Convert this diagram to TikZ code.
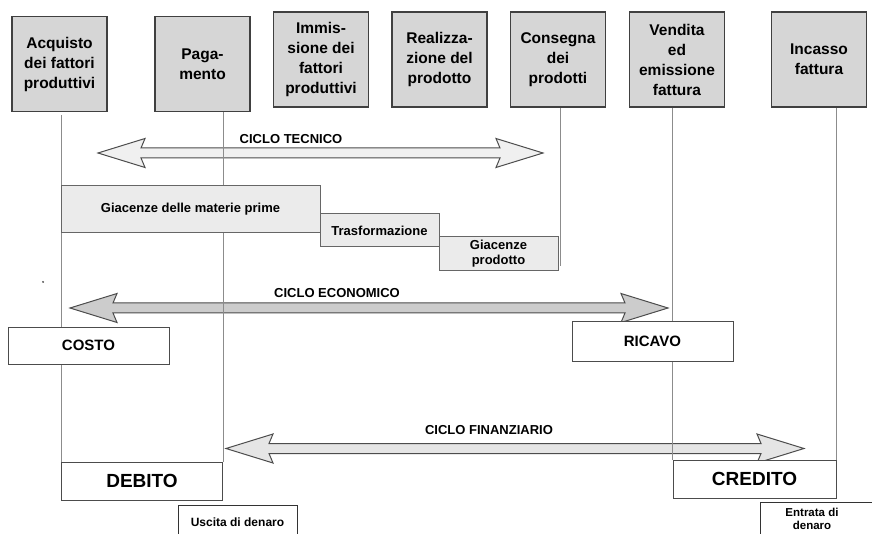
\documentclass[tikz,border=0pt]{standalone}
\usepackage{fontspec}
\setmainfont{Liberation Sans}
\usetikzlibrary{calc,backgrounds}

\begin{document}
\begin{tikzpicture}[x=1pt, y=-1pt,
    fase/.style={draw=black!75, fill=black!16, line width=1.2pt, inner sep=0pt,
        minimum width=95pt, minimum height=95pt, align=center,
        font=\bfseries\fontsize{15.5}{20}\selectfont},
    giacenza/.style={draw=black!60, fill=black!8, line width=1pt, inner sep=0pt,
        align=center, font=\bfseries\fontsize{13}{15}\selectfont},
    esito/.style={draw=black!70, fill=white, line width=1pt, inner sep=0pt,
        minimum width=161pt, align=center},
    denaro/.style={inner sep=0pt, align=center, font=\bfseries\fontsize{12}{13}\selectfont},
    bordo/.style={draw=black!80, line width=1pt},
    ciclo/.style={draw=black!70, line width=1pt, line join=miter},
    etichetta/.style={font=\bfseries\fontsize{13}{15}\selectfont},
    asse/.style={draw=black!45, line width=1pt}
]
        \useasboundingbox (0,0) rectangle (872,534);

        % ==== FASI ====
        \node[fase] (acq) at (59.5,64) {Acquisto\\dei fattori\\produttivi};
        \node[fase] (pag) at (202.5,64) {Paga-\\mento};
        \node[fase] (imm) at (321,59.5) {Immis-\\sione dei\\fattori\\produttivi};
        \node[fase] (real) at (439.5,59.5) {Realizza-\\zione del\\prodotto};
        \node[fase] (cons) at (558,59.5) {Consegna\\dei\\prodotti};
        \node[fase] (vend) at (677,59.5) {Vendita\\ed\\emissione\\fattura};
        \node[fase] (inc) at (819,59.5) {Incasso\\fattura};

        % ==== GIACENZE ====
        \node[giacenza, minimum width=259pt, minimum height=47pt] (giac) at (190.5,209.5) {Giacenze delle materie prime};
        \node[giacenza, minimum width=119pt, minimum height=33pt] (trasf) at (379.5,230.5) {Trasformazione};
        \node[giacenza, minimum width=119pt, minimum height=34pt] (giacp) at (498.5,254) {Giacenze\\prodotto};

        % ==== COSTO / RICAVO / DEBITO / CREDITO ====
        \node[esito, minimum height=37pt, font=\bfseries\fontsize{15}{18}\selectfont] (costo) at (88.5,345.5) {COSTO};
        \node[esito, minimum height=39pt, font=\bfseries\fontsize{15}{18}\selectfont] (ricavo) at (652.5,341.5) {RICAVO};
        \node[esito, minimum height=38pt, font=\bfseries\fontsize{19}{22}\selectfont] (debito) at (142,481) {DEBITO};
        \node[esito, minimum width=163pt, minimum height=38pt, font=\bfseries\fontsize{19}{22}\selectfont] (credito) at (754.5,479) {CREDITO};

        % ==== DENARO ====
        \node[denaro, draw=black!80, fill=white, line width=1pt, anchor=north,
            minimum width=119pt, minimum height=34pt] (uscita) at (237.5,505) {Uscita di denaro};
        \node[denaro, font=\bfseries\fontsize{11.5}{13}\selectfont] (entrata) at (812,518.5) {Entrata di\\denaro};
        \coordinate (entrataNO) at (760,502);
        \draw[bordo] (entrataNO |- uscita.south) -- (entrataNO) -- ++(120,0);

        % ==== CICLI ====
        \node[etichetta] (lbltec) at (291,139) {CICLO TECNICO};
        \node[etichetta] (lbleco) at (337,293) {CICLO ECONOMICO};
        \node[etichetta] (lblfin) at (489,430) {CICLO FINANZIARIO};
        \coordinate (tecS) at (98,153);   \coordinate (tecD) at (543,153);
        \coordinate (ecoS) at (70,308);   \coordinate (ecoD) at (668,308);
        \coordinate (finS) at (226,448.5); \coordinate (finD) at (804,448.5);

        \begin{scope}[on background layer]
            \fill[white] (0,0) rectangle (872,534);
            \filldraw[ciclo, fill=black!6] (tecS) -- ++(47,-14.5) -- ++(-4,9.5) -- ($(tecD)+(-43,-5)$)
                -- ++(-4,-9.5) -- (tecD) -- ++(-47,14.5) -- ++(4,-9.5) -- ($(tecS)+(43,5)$) -- ++(4,9.5) -- cycle;
            \filldraw[ciclo, fill=black!20] (ecoS) -- ++(47,-14.5) -- ++(-4,9.5) -- ($(ecoD)+(-43,-5)$)
                -- ++(-4,-9.5) -- (ecoD) -- ++(-47,14.5) -- ++(4,-9.5) -- ($(ecoS)+(43,5)$) -- ++(4,9.5) -- cycle;
            \filldraw[ciclo, fill=black!10] (finS) -- ++(47,-14.5) -- ++(-4,9.5) -- ($(finD)+(-43,-5)$)
                -- ++(-4,-9.5) -- (finD) -- ++(-47,14.5) -- ++(4,-9.5) -- ($(finS)+(43,5)$) -- ++(4,9.5) -- cycle;

            % ==== LINEE VERTICALI ====
            \draw[asse] ([yshift=-3pt]debito.north west |- acq.south) -- (debito.north west);
            \draw[asse] (debito.north east |- pag.south) -- (debito.north east);
            \draw[asse] ([xshift=2pt]cons.south) -- ++(0,158);
            \draw[asse] (credito.north west |- vend.south) -- (credito.north west);
            \draw[asse] (credito.north east |- inc.south) -- (credito.north east);
        \end{scope}

        \fill[black!70] (43,282) circle (1pt);
\end{tikzpicture}
\end{document}
